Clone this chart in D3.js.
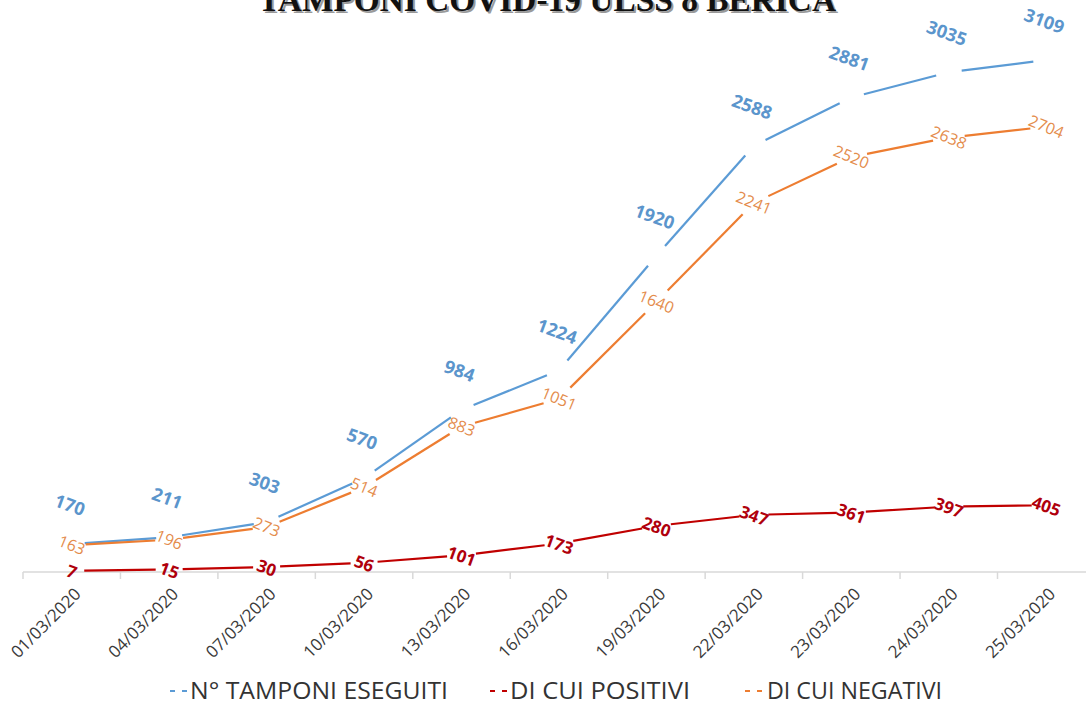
<!DOCTYPE html>
<html>
<head>
<meta charset="utf-8">
<script src="https://cdn.jsdelivr.net/npm/d3@7"></script>
<style>
  html, body { margin: 0; padding: 0; background: #ffffff; }
  svg { display: block; }
</style>
</head>
<body>
<script>
// ---- Data ----
const categories = ["01/03/2020","04/03/2020","07/03/2020","10/03/2020","13/03/2020","16/03/2020","19/03/2020","22/03/2020","23/03/2020","24/03/2020","25/03/2020"];
const tamponi  = [170, 211, 303, 570, 984, 1224, 1920, 2588, 2881, 3035, 3109];
const positivi = [7, 15, 30, 56, 101, 173, 280, 347, 361, 397, 405];
const negativi = [163, 196, 273, 514, 883, 1051, 1640, 2241, 2520, 2638, 2704];
const seriesNames = ["N° TAMPONI ESEGUITI", "DI CUI POSITIVI", "DI CUI NEGATIVI"];
const titleText = "TAMPONI COVID-19 ULSS 8 BERICA";

// ---- Layout ----
const W = 1086, H = 706;
const svg = d3.select("body").append("svg").attr("width", W).attr("height", H);

const x = d3.scaleBand().domain(categories).range([23, 23 + 97.45 * categories.length]);
const y = d3.scaleLinear().domain([0, 3109]).range([572, 60]);
const cx = c => x(c) + x.bandwidth() / 2;

// Title (cut off at the top of the image, as in the reference)
const tg = svg.append("g");
tg.append("text").attr("x", 260).attr("y", 13)
  .attr("textLength", 578).attr("lengthAdjust", "spacingAndGlyphs")
  .attr("font-family", "Liberation Serif, Times New Roman, serif")
  .attr("font-weight", "bold").attr("font-size", 34).attr("fill", "#9a9a9a")
  .text(titleText);
tg.append("text").attr("x", 258).attr("y", 11)
  .attr("textLength", 578).attr("lengthAdjust", "spacingAndGlyphs")
  .attr("font-family", "Liberation Serif, Times New Roman, serif")
  .attr("font-weight", "bold").attr("font-size", 34).attr("fill", "#111111")
  .text(titleText);

// ---- X axis ----
const axisG = svg.append("g").attr("transform", `translate(0,${y(0)})`);
axisG.call(d3.axisBottom(x).tickSize(0).tickPadding(0));
axisG.select(".domain").remove();
axisG.append("line").attr("x1", x.range()[0]).attr("x2", W)
  .attr("stroke", "#d9d9d9").attr("stroke-width", 1.5);
axisG.selectAll(".bound").data(categories).join("line").attr("class", "bound")
  .attr("x1", d => x(d)).attr("x2", d => x(d)).attr("y1", 0).attr("y2", 7)
  .attr("stroke", "#d9d9d9").attr("stroke-width", 1.5);
axisG.selectAll(".tick text")
  .attr("transform", d => `translate(${x.bandwidth() / 2 + 6},19) rotate(-45)`)
  .attr("x", 0).attr("y", 0).attr("dy", "0.35em")
  .attr("text-anchor", "end")
  .attr("font-family", "Open Sans, sans-serif").attr("font-size", 17)
  .attr("fill", "#3a3a3a");
axisG.selectAll(".tick").attr("transform", d => `translate(${x(d)},0)`);

// ---- Series ----
const series = [
  { name: seriesNames[0], values: tamponi,  line: "#5b9bd5", label: "#5b95cc", weight: "bold",   size: 18, angle: 20, dx: -2, dy: -39, gap: v => 13 },
  { name: seriesNames[2], values: negativi, line: "#ed7d31", label: "#e48c4c", weight: "normal", size: 16, angle: 22, dx: 0,  dy: 0,   gap: v => 8 + 2 * String(v).length },
  { name: seriesNames[1], values: positivi, line: "#c00000", label: "#b0000c", weight: "bold",   size: 17, angle: 20, dx: 0,  dy: 1,   gap: v => 11.5 + String(v).length }
];

const lineGen = d3.line();

series.forEach(s => {
  const pts = s.values.map((v, i) => [cx(categories[i]), y(v)]);
  const segs = [];
  for (let i = 0; i < pts.length - 1; i++) {
    const p0 = pts[i], p1 = pts[i + 1];
    const ddx = p1[0] - p0[0], ddy = p1[1] - p0[1];
    const len = Math.hypot(ddx, ddy), ux = ddx / len, uy = ddy / len;
    const r0 = s.gap(s.values[i]), r1 = s.gap(s.values[i + 1]);
    segs.push([[p0[0] + ux * r0, p0[1] + uy * r0], [p1[0] - ux * r1, p1[1] - uy * r1]]);
  }
  svg.append("g").selectAll("path").data(segs).join("path")
    .attr("d", d => lineGen(d))
    .attr("fill", "none").attr("stroke", s.line).attr("stroke-width", 2.2)
    .attr("stroke-linecap", "butt");
  s.pts = pts;
});

series.forEach(s => {
  svg.append("g").selectAll("text").data(s.values).join("text")
    .attr("transform", (v, i) => `translate(${s.pts[i][0] + s.dx},${s.pts[i][1] + s.dy}) rotate(${s.angle})`)
    .attr("text-anchor", "middle").attr("dy", "0.35em")
    .attr("font-family", "Open Sans, sans-serif").attr("font-size", s.size)
    .attr("font-weight", s.weight).attr("fill", s.label)
    .text(v => v);
});

// ---- Legend ----
const legendItems = [
  { name: seriesNames[0], color: "#5b9bd5", mx: 170, tx: 190, tw: 258 },
  { name: seriesNames[1], color: "#c00000", mx: 490, tx: 510, tw: 180 },
  { name: seriesNames[2], color: "#ed7d31", mx: 745, tx: 767, tw: 175 }
];
const lg = svg.append("g");
legendItems.forEach(it => {
  lg.append("line").attr("x1", it.mx).attr("x2", it.mx + 18).attr("y1", 691).attr("y2", 691)
    .attr("stroke", it.color).attr("stroke-width", 2.2).attr("stroke-dasharray", "5,7");
  lg.append("text").attr("x", it.tx).attr("y", 699)
    .attr("textLength", it.tw).attr("lengthAdjust", "spacingAndGlyphs")
    .attr("font-family", "Open Sans, sans-serif").attr("font-size", 23)
    .attr("fill", "#333333").text(it.name);
});
</script>
</body>
</html>
